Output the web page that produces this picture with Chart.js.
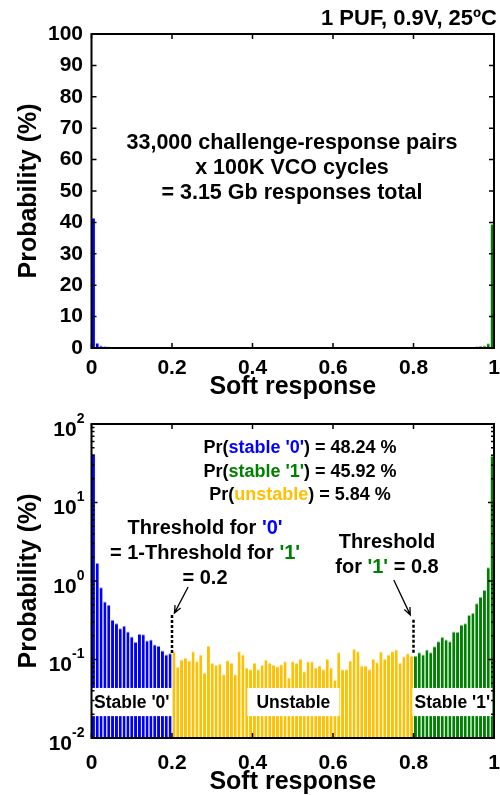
<!DOCTYPE html>
<html lang="en">
<head>
<meta charset="UTF-8" />
<title>PUF soft response histogram</title>
<script src="https://cdn.jsdelivr.net/npm/chart.js@4.4.1/dist/chart.umd.min.js"></script>
<style>
  html, body { margin: 0; padding: 0; background: #fff; }
  #wrap { position: relative; width: 500px; height: 795px; overflow: hidden; }
  canvas { position: absolute; left: 0; }
  #linChart { top: 0; }
  #logChart { top: 395px; }
</style>
</head>
<body>
<div id="wrap">
  <canvas id="linChart" width="500" height="400"></canvas>
  <canvas id="logChart" width="500" height="400"></canvas>
</div>
<script>
// histogram of soft response, 105 bins over 0..1, values in %
const NBINS = 105;
const stable0Pct = [41.5, 1.7, 0.83, 0.55, 0.50, 0.32, 0.29, 0.25, 0.27, 0.228,
                    0.197, 0.167, 0.211, 0.21, 0.175, 0.18, 0.155, 0.15, 0.13, 0.116, 0.12];
const unstablePct = [0.127, 0.081, 0.100, 0.105, 0.097, 0.127, 0.095, 0.116, 0.068, 0.150,
                     0.091, 0.085, 0.089, 0.065, 0.098, 0.091, 0.065, 0.127, 0.116, 0.079,
                     0.075, 0.091, 0.075, 0.086, 0.100, 0.091, 0.086, 0.082, 0.087, 0.095,
                     0.059, 0.095, 0.090, 0.102, 0.071, 0.095, 0.095, 0.079, 0.084, 0.075,
                     0.102, 0.079, 0.055, 0.124, 0.075, 0.075, 0.097, 0.137, 0.127, 0.084,
                     0.084, 0.075, 0.102, 0.092, 0.126, 0.102, 0.116, 0.127, 0.134, 0.091,
                     0.110, 0.120, 0.112];
const stable1Pct = [0.112, 0.124, 0.116, 0.134, 0.124, 0.147, 0.171, 0.193, 0.18, 0.171,
                    0.228, 0.224, 0.277, 0.29, 0.37, 0.39, 0.52, 0.63, 0.77, 1.5, 39.5];

const xTickVals = [0, 0.2, 0.4, 0.6, 0.8, 1];
const xTickText = ['0', '0.2', '0.4', '0.6', '0.8', '1'];
const linTickVals = [0, 10, 20, 30, 40, 50, 60, 70, 80, 90, 100];
const logTickVals = [0.01, 0.1, 1, 10, 100];
const logTickExp = ['-2', '-1', '0', '1', '2'];

const BLUE = '#0000ff', YELLOW = '#ffc000', GREEN = '#008000';
const FONT = '"Liberation Sans", Arial, Helvetica, sans-serif';
const bold = size => ({ family: FONT, size: size, weight: 'bold', lineHeight: 1 });

function binPoints(vals, firstBin) {
    return vals.map((v, k) => ({ x: (firstBin + k + 0.5) / NBINS, y: v }));
}

function makeDatasets() {
    const groups = [
        [stable0Pct, 0, BLUE, '#8c8cff'],
        [unstablePct, stable0Pct.length, YELLOW, '#ffe39a'],
        [stable1Pct, stable0Pct.length + unstablePct.length, GREEN, '#8cc48c']
    ];
    return groups.map(([vals, first, col, edge]) => ({
        data: binPoints(vals, first),
        backgroundColor: col,
        borderColor: edge,
        borderWidth: { top: 1, left: 0, right: 0, bottom: 0 },
        grouped: false,
        barPercentage: 0.8,
        categoryPercentage: 1
    }));
}

function xScale(axisHeight, labelPad) {
    return {
        type: 'linear', min: 0, max: 1, offset: false,
        grid: { display: false, drawTicks: false }, border: { display: false },
        afterBuildTicks: s => { s.ticks = xTickVals.map(v => ({ value: v })); },
        ticks: { padding: labelPad, color: '#000', font: bold(21), maxRotation: 0, autoSkip: false,
                 callback: (v, i) => xTickText[i] },
        title: { display: true, text: 'Soft response', color: '#000', font: bold(25), padding: 0 },
        afterFit: s => { s.height = axisHeight; s.paddingLeft = 0; s.paddingRight = 0; }
    };
}

const yTitle = { display: true, text: 'Probability (%)', color: '#000', font: bold(25), padding: { top: 17, bottom: 0 } };

// box + inward MATLAB style ticks
const frame = {
    id: 'frame',
    afterDatasetsDraw(chart, args, o) {
        const { ctx, chartArea: a, scales: { x, y } } = chart;
        ctx.save();
        ctx.strokeStyle = '#000';
        ctx.lineWidth = 1.5;
        ctx.beginPath();
        const mark = (px, py, dx, dy) => { ctx.moveTo(px, py); ctx.lineTo(px + dx, py + dy); };
        xTickVals.forEach(v => {
            const px = x.getPixelForValue(v);
            mark(px, a.bottom, 0, -5);
            mark(px, a.top, 0, 5);
        });
        if (o.log) {
            for (let e = -2; e < 2; e++) {
                for (let k = 1; k < 10; k++) {
                    const py = y.getPixelForValue(k * Math.pow(10, e));
                    const len = k === 1 ? 6 : 3;
                    mark(a.left, py, len, 0);
                    mark(a.right, py, -len, 0);
                }
            }
        } else {
            linTickVals.forEach(v => {
                const py = y.getPixelForValue(v);
                mark(a.left, py, 5, 0);
                mark(a.right, py, -5, 0);
            });
        }
        ctx.stroke();
        ctx.lineWidth = 2;
        ctx.strokeRect(a.left, a.top, a.right - a.left, a.bottom - a.top);
        ctx.restore();
    }
};

function richLine(ctx, parts, cx, cy) {
    const w = parts.reduce((s, p) => s + ctx.measureText(p[0]).width, 0);
    let px = cx - w / 2;
    ctx.textAlign = 'left';
    ctx.textBaseline = 'middle';
    parts.forEach(([t, c]) => {
        ctx.fillStyle = c;
        ctx.fillText(t, px, cy);
        px += ctx.measureText(t).width;
    });
}

function arrow(ctx, x0, y0, x1, y1) {
    const ang = Math.atan2(y1 - y0, x1 - x0);
    ctx.beginPath();
    ctx.moveTo(x0, y0);
    ctx.lineTo(x1, y1);
    ctx.moveTo(x1 - 8 * Math.cos(ang - 0.4), y1 - 8 * Math.sin(ang - 0.4));
    ctx.lineTo(x1, y1);
    ctx.lineTo(x1 - 8 * Math.cos(ang + 0.4), y1 - 8 * Math.sin(ang + 0.4));
    ctx.stroke();
}

const linNotes = {
    id: 'linNotes',
    afterDraw(chart) {
        const { ctx } = chart;
        ctx.save();
        ctx.font = `bold 22px ${FONT}`;
        ctx.fillStyle = '#000';
        ctx.textAlign = 'right';
        ctx.textBaseline = 'middle';
        ctx.fillText('1 PUF, 0.9V, 25ºC', 497, 19);
        ctx.font = `bold 21.5px ${FONT}`;
        ctx.textAlign = 'center';
        ['33,000 challenge-response pairs', 'x 100K VCO cycles', '= 3.15 Gb responses total']
            .forEach((t, i) => ctx.fillText(t, 292, 143 + 25 * i));
        ctx.restore();
    }
};

const regionBoxes = [[0, 0.2, "Stable '0'"], [0.387, 0.616, 'Unstable'], [0.797, 0.996, "Stable '1'"]];

const logNotes = {
    id: 'logNotes',
    afterDatasetsDraw(chart) {
        const { ctx, scales: { x, y } } = chart;
        ctx.save();
        ctx.font = `bold 17.5px ${FONT}`;
        regionBoxes.forEach(([x0, x1, text]) => {
            const l = x.getPixelForValue(x0), r = x.getPixelForValue(x1);
            const t = y.getPixelForValue(0.0434), b = y.getPixelForValue(0.019);
            ctx.fillStyle = '#fff';
            ctx.fillRect(l, t, r - l, b - t);
            ctx.fillStyle = '#000';
            ctx.textAlign = 'center';
            ctx.textBaseline = 'middle';
            ctx.fillText(text, (l + r) / 2, (t + b) / 2 + 1);
        });
        ctx.restore();
    },
    afterDraw(chart) {
        const { ctx, chartArea: a, scales: { x, y } } = chart;
        ctx.save();
        // log tick labels 10^n
        logTickVals.forEach((v, i) => {
            const py = y.getPixelForValue(v);
            ctx.font = `bold 14px ${FONT}`;
            const ew = ctx.measureText(logTickExp[i]).width;
            ctx.font = `bold 21px ${FONT}`;
            const bw = ctx.measureText('10').width;
            const right = a.left - 7;
            ctx.fillStyle = '#000';
            ctx.textAlign = 'left';
            ctx.textBaseline = 'middle';
            ctx.fillText('10', right - ew - bw, py + 6);
            ctx.font = `bold 14px ${FONT}`;
            ctx.fillText(logTickExp[i], right - ew, py - 5);
        });

        ctx.font = `bold 18px ${FONT}`;
        richLine(ctx, [['Pr(', '#000'], ["stable '0'", BLUE], [') = 48.24 %', '#000']], 300, 53);
        richLine(ctx, [['Pr(', '#000'], ["stable '1'", GREEN], [') = 45.92 %', '#000']], 300, 77);
        richLine(ctx, [['Pr(', '#000'], ['unstable', YELLOW], [') = 5.84 %', '#000']], 300, 100);

        ctx.font = `bold 20px ${FONT}`;
        richLine(ctx, [['Threshold for ', '#000'], ["'0'", BLUE]], 205, 133);
        richLine(ctx, [['= 1-Threshold for ', '#000'], ["'1'", GREEN]], 205, 158);
        richLine(ctx, [['= 0.2', '#000']], 205, 183);
        richLine(ctx, [['Threshold', '#000']], 387, 147);
        richLine(ctx, [['for ', '#000'], ["'1'", GREEN], [' = 0.8', '#000']], 387, 172);

        ctx.strokeStyle = '#000';
        ctx.lineWidth = 1.3;
        arrow(ctx, x.getPixelForValue(0.24), y.getPixelForValue(0.84), x.getPixelForValue(0.206), y.getPixelForValue(0.39));
        arrow(ctx, x.getPixelForValue(0.751), y.getPixelForValue(1.03), x.getPixelForValue(0.792), y.getPixelForValue(0.37));

        ctx.lineWidth = 2.5;
        ctx.setLineDash([3, 2]);
        ctx.beginPath();
        ctx.moveTo(x.getPixelForValue(0.2), y.getPixelForValue(0.37));
        ctx.lineTo(x.getPixelForValue(0.2), y.getPixelForValue(0.118));
        ctx.moveTo(x.getPixelForValue(0.8), y.getPixelForValue(0.32));
        ctx.lineTo(x.getPixelForValue(0.8), y.getPixelForValue(0.115));
        ctx.stroke();
        ctx.restore();
    }
};

Chart.defaults.font.family = FONT;
Chart.defaults.color = '#000';

new Chart(document.getElementById('linChart'), {
    type: 'bar',
    data: { datasets: makeDatasets() },
    options: {
        responsive: false,
        animation: false,
        layout: { padding: { top: 34, right: 6, bottom: 0, left: 0 } },
        plugins: { legend: { display: false }, tooltip: { enabled: false }, frame: { log: false } },
        scales: {
            x: xScale(52, 10),
            y: {
                type: 'linear', min: 0, max: 100,
                grid: { display: false, drawTicks: false }, border: { display: false },
                afterBuildTicks: s => { s.ticks = linTickVals.map(v => ({ value: v })); },
                ticks: { padding: 8.5, color: '#000', font: bold(21) },
                title: yTitle,
                afterFit: s => { s.width = 91.5; s.paddingTop = 0; s.paddingBottom = 0; }
            }
        }
    },
    plugins: [frame, linNotes]
});

new Chart(document.getElementById('logChart'), {
    type: 'bar',
    data: { datasets: makeDatasets() },
    options: {
        responsive: false,
        animation: false,
        layout: { padding: { top: 29, right: 6, bottom: 0, left: 0 } },
        plugins: { legend: { display: false }, tooltip: { enabled: false }, frame: { log: true } },
        scales: {
            x: xScale(57, 15),
            y: {
                type: 'logarithmic', min: 0.01, max: 100,
                grid: { display: false, drawTicks: false }, border: { display: false },
                ticks: { display: false },
                title: yTitle,
                afterFit: s => { s.width = 91.5; s.paddingTop = 0; s.paddingBottom = 0; }
            }
        }
    },
    plugins: [logNotes, frame]
});
</script>
</body>
</html>
